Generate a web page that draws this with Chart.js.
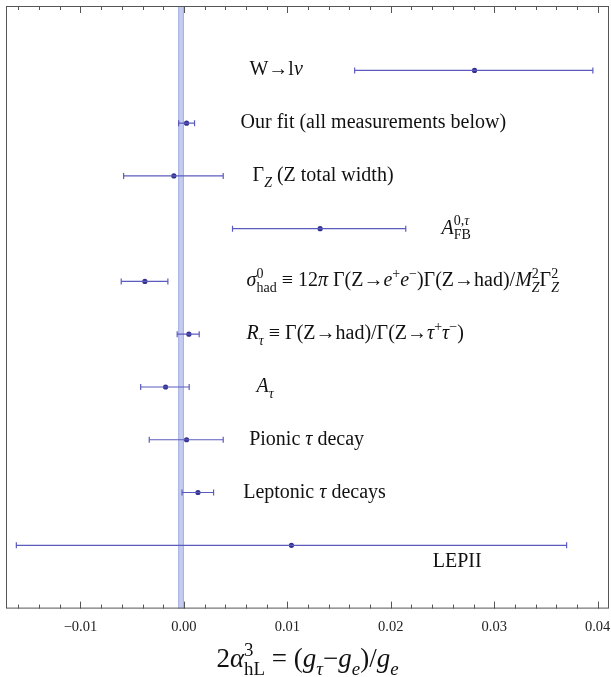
<!DOCTYPE html>
<html>
<head>
<meta charset="utf-8">
<script src="https://cdn.jsdelivr.net/npm/chart.js@4.4.1/dist/chart.umd.min.js"></script>
<style>
  html, body { margin: 0; padding: 0; background: #fff; }
  #wrap { width: 611px; height: 677px; }
</style>
</head>
<body>
<div id="wrap"><canvas id="chart" width="611" height="677"></canvas></div>
<script>
// measurements, top row first
const measurements = ["W→lν", "Our fit", "Γ_Z", "A_FB", "σ_had", "R_τ", "A_τ", "Pionic", "Leptonic", "LEPII"];
const rows    = [10, 9, 8, 7, 6, 5, 4, 3, 2, 1];
const central = [0.0281, 0.00026, -0.00097, 0.01317, -0.00377, 0.00048, -0.00177, 0.00026, 0.00136, 0.0104];
const lower   = [0.01651, -0.00051, -0.00583, 0.0047, -0.00606, -0.00065, -0.00418, -0.00335, -0.00018, -0.0162];
const upper   = [0.03954, 0.00103, 0.0038, 0.02145, -0.00155, 0.00148, 0.00051, 0.0038, 0.00287, 0.0370];
// shaded band around zero
const band = [-0.00055, 0.0];
const xTicks = [-0.01, 0, 0.01, 0.02, 0.03, 0.04];

const FONT = '"Liberation Serif", "DejaVu Serif", serif';
const BAR = "#5b5bbf";
const DOT = "#33338f";

// rich text helpers
const N = t => ({ t: t });
const I = t => ({ t: t, i: true });
const U = (...r) => ({ k: "u", r: r });
const D = (...r) => ({ k: "d", r: r });
const S = (up, dn) => ({ k: "s", up: up, dn: dn });

// label text and where it starts (data x, row offset)
const labels = [
  { x: 0.00634, dy: 0, segs: [N("W→l"), I("ν")] },
  { x: 0.00548, dy: 0, segs: [N("Our fit (all measurements below)")] },
  { x: 0.00664, dy: 0, segs: [N("Γ"), D(I("Z")), N(" (Z total width)")] },
  { x: 0.0249, dy: 0, segs: [I("A"), S([N("0,"), I("τ")], [N("FB")])] },
  { x: 0.00606, dy: 0, segs: [I("σ"), S([N("0")], [N("had")]), N(" ≡ 12"), I("π"), N(" Γ(Z→"), I("e"), U(N("+")), I("e"), U(N("−")), N(")Γ(Z→had)/"), I("M"), S([N("2")], [I("Z")]), N("Γ"), S([N("2")], [I("Z")])] },
  { x: 0.00606, dy: 0, segs: [I("R"), D(I("τ")), N(" ≡ Γ(Z→had)/Γ(Z→"), I("τ"), U(N("+")), I("τ"), U(N("−")), N(")")] },
  { x: 0.00702, dy: 0, segs: [I("A"), D(I("τ"))] },
  { x: 0.00631, dy: 0, segs: [N("Pionic "), I("τ"), N(" decay")] },
  { x: 0.00573, dy: 0, segs: [N("Leptonic "), I("τ"), N(" decays")] },
  { x: 0.02406, dy: -0.32, segs: [N("LEPII")] }
];
const axisTitle = [N("2"), I("α"), S([N("3")], [N("hL")]), N(" = ("), I("g"), D(I("τ")), N("−"), I("g"), D(I("e")), N(")/"), I("g"), D(I("e"))];

function run(ctx, runs, x, y, size, dry) {
  let cx = x;
  for (const r of runs) {
    ctx.font = (r.i ? "italic " : "") + size + "px " + FONT;
    if (!dry) ctx.fillText(r.t, cx, y);
    cx += ctx.measureText(r.t).width;
  }
  return cx - x;
}

function rich(ctx, segs, x, y, size, dry) {
  let cx = x;
  const small = size * 0.7;
  for (const s of segs) {
    if (s.k === "s") {
      const wu = run(ctx, s.up, cx, y - size * 0.42, small, dry);
      const wd = run(ctx, s.dn, cx, y + size * 0.28, small, dry);
      cx += Math.max(wu, wd);
    } else if (s.k === "u") {
      cx += run(ctx, s.r, cx, y - size * 0.42, small, dry);
    } else if (s.k === "d") {
      cx += run(ctx, s.r, cx, y + size * 0.28, small, dry);
    } else {
      cx += run(ctx, [s], cx, y, size, dry);
    }
  }
  return cx - x;
}

const fmt = v => {
  if (Math.abs(v) < 1e-9) return "0.00";
  return (v < 0 ? "−" : "") + Math.abs(v).toFixed(2);
};

const errorBars = measurements.map((m, i) => ({
  type: "line",
  label: m,
  data: [{ x: lower[i], y: rows[i] }, { x: upper[i], y: rows[i] }],
  borderColor: BAR,
  borderWidth: 1.2,
  pointStyle: "line",
  rotation: 90,
  pointRadius: 3,
  pointBorderColor: BAR,
  pointBorderWidth: 1.2,
  showLine: true,
  fill: false
}));

const points = {
  type: "scatter",
  label: "central",
  data: central.map((c, i) => ({ x: c, y: rows[i] })),
  backgroundColor: DOT,
  borderColor: DOT,
  pointRadius: 2.6,
  borderWidth: 0
};

// band behind data, frame + inner ticks + text on top
const decor = {
  id: "decor",
  beforeDatasetsDraw(chart) {
    const { ctx, chartArea: a, scales: { x } } = chart;
    const x0 = x.getPixelForValue(band[0]);
    const x1 = x.getPixelForValue(band[1]);
    ctx.save();
    ctx.fillStyle = "#c4ccef";
    ctx.fillRect(x0, a.top, x1 - x0, a.bottom - a.top);
    ctx.strokeStyle = "#a6b1e2";
    ctx.lineWidth = 1;
    ctx.beginPath();
    ctx.moveTo(x0 + 0.5, a.top); ctx.lineTo(x0 + 0.5, a.bottom);
    ctx.moveTo(x1 - 0.5, a.top); ctx.lineTo(x1 - 0.5, a.bottom);
    ctx.stroke();
    ctx.restore();
  },
  afterDraw(chart) {
    const { ctx, chartArea: a, scales: { x, y } } = chart;
    ctx.save();
    ctx.strokeStyle = "#555";
    ctx.lineWidth = 1;
    ctx.strokeRect(a.left + 0.5, a.top + 0.5, a.right - a.left - 1, a.bottom - a.top - 1);
    ctx.beginPath();
    for (let k = -8; k <= 20; k++) {
      const v = k * 0.002;
      if (v < x.min || v > x.max) continue;
      const px = Math.round(x.getPixelForValue(v)) + 0.5;
      const len = k % 5 === 0 ? 7 : 4;
      ctx.moveTo(px, a.bottom); ctx.lineTo(px, a.bottom - len);
      ctx.moveTo(px, a.top); ctx.lineTo(px, a.top + len);
    }
    ctx.stroke();

    ctx.fillStyle = "#111";
    ctx.textBaseline = "alphabetic";
    ctx.textAlign = "left";
    labels.forEach((l, i) => {
      const px = x.getPixelForValue(l.x);
      const py = y.getPixelForValue(rows[i] + l.dy) + 5;
      rich(ctx, l.segs, px, py, 20);
    });
    const w = rich(ctx, axisTitle, 0, 0, 27, true);
    const cx = (a.left + a.right) / 2;
    rich(ctx, axisTitle, cx - w / 2, 667, 27);
    ctx.restore();
  }
};

new Chart(document.getElementById("chart"), {
  type: "scatter",
  data: { datasets: [...errorBars, points] },
  options: {
    responsive: false,
    animation: false,
    layout: { autoPadding: false, padding: { left: 6, right: 2, top: 6, bottom: 39 } },
    plugins: { legend: { display: false }, tooltip: { enabled: false } },
    scales: {
      x: {
        type: "linear",
        min: -0.0172,
        max: 0.0411,
        afterBuildTicks: s => { s.ticks = xTicks.map(v => ({ value: v })); },
        afterFit: s => { s.paddingLeft = 0; s.paddingRight = 0; },
        grid: { display: false },
        border: { display: false },
        ticks: {
          callback: v => fmt(v),
          font: { family: FONT, size: 14.5 },
          color: "#222",
          padding: 2,
          maxRotation: 0,
          autoSkip: false
        }
      },
      y: { display: false, min: -0.2, max: 11.22 }
    }
  },
  plugins: [decor]
});
</script>
</body>
</html>
